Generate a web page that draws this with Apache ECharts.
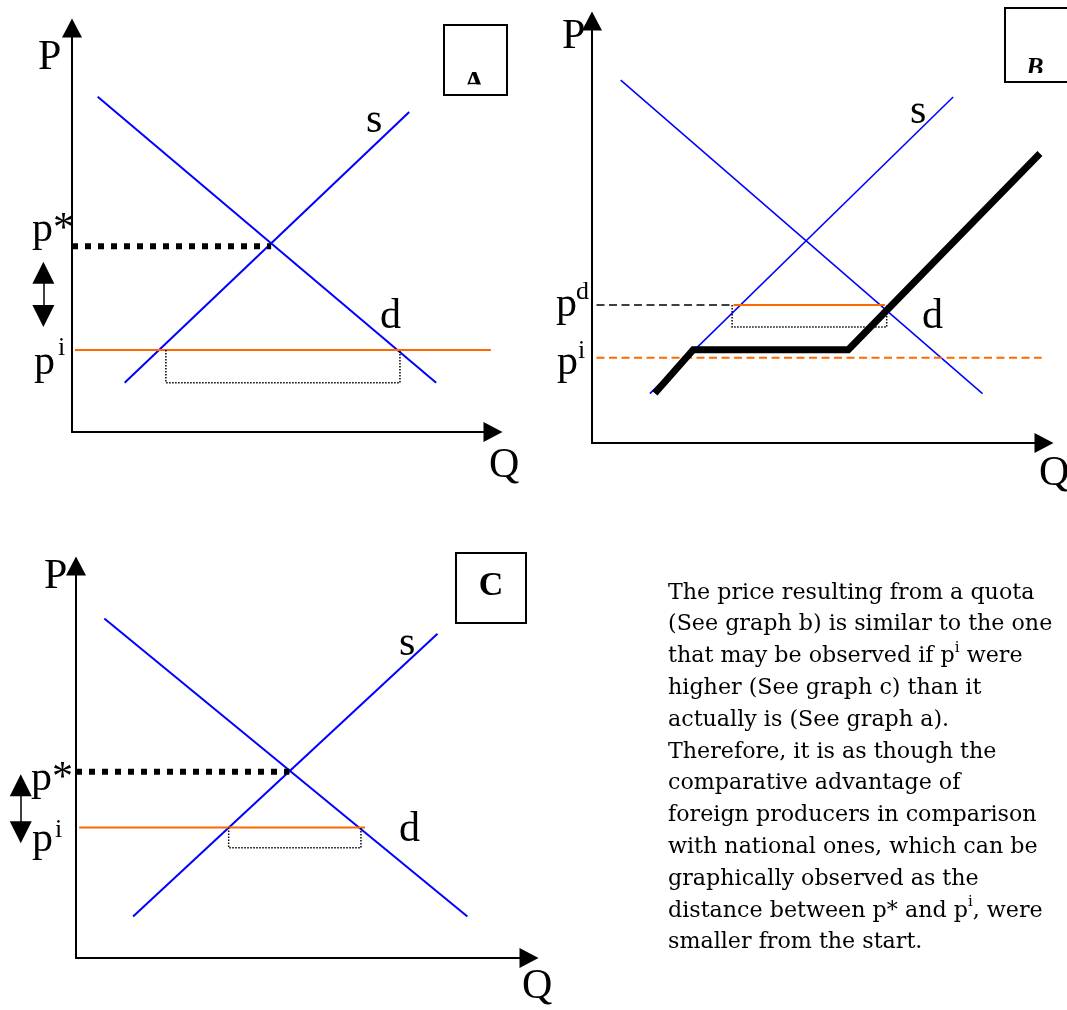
<!DOCTYPE html>
<html>
<head>
<meta charset="utf-8">
<script src="https://cdn.jsdelivr.net/npm/echarts@6/dist/echarts.min.js"></script>
<style>
  html, body { margin: 0; padding: 0; background: #fff; }
  #chart { width: 1067px; height: 1010px; }
</style>
</head>
<body>
<div id="chart"></div>
<script>
// values in chart units: Q and P both run 0..100 on each panel
// panel A (free trade)
const demandA = [[6.1, 83.0], [86.5, 12.2]];
const supplyA = [[12.5, 12.2], [80.1, 79.2]];
const pStarA = [[0, 46.0], [47.3, 46.0]];
const pWorldA = [[0.7, 20.3], [99.5, 20.3]];
const importsA = [[22.3, 20.3], [22.3, 12.2], [77.9, 12.2], [77.9, 20.3]];
const gapA = [[-6.8, 39.4], [-6.8, 28.7]];

// panel B (quota)
const demandB = [[6.35, 86.0], [86.4, 11.7]];
const supplyB = [[12.8, 11.7], [79.9, 82.0]];
const quotaSupplyB = [[13.9, 11.8], [22.4, 22.1], [56.7, 22.1], [99.1, 68.6]];
const pDomB = [[1.0, 32.7], [31.3, 32.7]];
const pDomImportB = [[31.3, 32.7], [64.8, 32.7]];
const pWorldB = [[1.0, 20.2], [99.5, 20.2]];
const importsB = [[31.0, 32.7], [31.0, 27.5], [65.2, 27.5], [65.2, 32.7]];

// panel C (higher world price)
const demandC = [[6.25, 86.6], [86.4, 10.6]];
const supplyC = [[12.6, 10.6], [79.8, 82.7]];
const pStarC = [[0, 47.5], [47.1, 47.5]];
const pWorldC = [[0.7, 33.3], [63.8, 33.3]];
const importsC = [[33.7, 33.3], [33.7, 28.1], [62.9, 28.1], [62.9, 33.3]];
const gapC = [[-12.2, 44.1], [-12.2, 32.1]];

const noteLines = [
  "The price resulting from a quota",
  "(See graph b) is similar to the one",
  "that may be observed if p{sup|i} were",
  "higher (See graph c) than it",
  "actually is (See graph a).",
  "Therefore, it is as though the",
  "comparative advantage of",
  "foreign producers in comparison",
  "with national ones, which can be",
  "graphically observed as the",
  "distance between p* and p{sup|i}, were",
  "smaller from the start."
];

const BLUE = "#0000ff";
const ORANGE = "#ff6a00";
const SERIF = "Liberation Serif";

const chart = echarts.init(document.getElementById("chart"));

function axis(gridIndex) {
  return {
    type: "value", gridIndex: gridIndex, min: 0, max: 100,
    axisLine: { show: true, symbol: ["none", "triangle"], symbolSize: [20, 19],
      lineStyle: { color: "#000", width: 2 } },
    axisTick: { show: false }, axisLabel: { show: false }, splitLine: { show: false }
  };
}

function seg(data, idx, color, width, type, z) {
  return {
    type: "line", xAxisIndex: idx, yAxisIndex: idx, data: data,
    symbol: "none", silent: true, z: z || 2,
    lineStyle: { color: color, width: width, type: type || "solid", cap: "butt", join: "miter" }
  };
}
function doubleArrow(data, idx) {
  return {
    type: "lines", coordinateSystem: "cartesian2d", xAxisIndex: idx, yAxisIndex: idx,
    clip: false, silent: true,
    symbol: ["triangle", "triangle"], symbolSize: 22,
    lineStyle: { color: "#000", width: 1.5, opacity: 1 },
    data: [{ coords: data }]
  };
}

function txt(text, x, y, size, extra) {
  return {
    type: "text", x: x, y: y, z: 10, silent: true,
    style: Object.assign({
      text: text, fontFamily: SERIF, fontSize: size, fill: "#000",
      align: "left", verticalAlign: "middle"
    }, extra || {})
  };
}
function clippedBox(x, y, w, h, letter, lx, ly, size, cutY, fontStyle) {
  return [
    txt(letter, lx, ly, size, { align: "center", fontWeight: "bold", fontStyle: fontStyle || "normal" }),
    { type: "rect", z: 11, silent: true,
      shape: { x: x + 1, y: cutY, width: w - 2, height: y + h - cutY - 1 },
      style: { fill: "#fff" } },
    { type: "rect", z: 12, silent: true,
      shape: { x: x, y: y, width: w, height: h },
      style: { fill: "none", stroke: "#000", lineWidth: 2 } }
  ];
}

const option = {
  backgroundColor: "#fff",
  animation: false,
  grid: [
    { left: 72, top: 28, width: 421, height: 404 },
    { left: 592, top: 21, width: 452, height: 422 },
    { left: 76, top: 566, width: 453, height: 392 }
  ],
  xAxis: [axis(0), axis(1), axis(2)],
  yAxis: [axis(0), axis(1), axis(2)],
  series: [
    // A
    seg(demandA, 0, BLUE, 2),
    seg(supplyA, 0, BLUE, 2),
    seg(pWorldA, 0, ORANGE, 2),
    seg(importsA, 0, "#000", 1.5, [1.5, 1.5]),
    seg(pStarA, 0, "#000", 6, [6, 7], 3),
    doubleArrow(gapA, 0),
    // B
    seg(demandB, 1, BLUE, 1.5),
    seg(supplyB, 1, BLUE, 1.5),
    seg(pDomB, 1, "#000", 1.5, [8, 4.5]),
    seg(pDomImportB, 1, ORANGE, 2),
    seg(pWorldB, 1, ORANGE, 2, [8, 4.5]),
    seg(importsB, 1, "#000", 1.5, [1.5, 1.5]),
    seg(quotaSupplyB, 1, "#000", 7, "solid", 4),
    // C
    seg(demandC, 2, BLUE, 2),
    seg(supplyC, 2, BLUE, 2),
    seg(pWorldC, 2, ORANGE, 2),
    seg(importsC, 2, "#000", 1.5, [1.5, 1.5]),
    seg(pStarC, 2, "#000", 6, [6, 7], 3),
    doubleArrow(gapC, 2)
  ],
  graphic: [].concat(
    // panel A labels
    txt("P", 38, 58, 42),
    txt("Q", 489, 466, 42),
    txt("p*", 32, 230, 42),
    txt("p", 34, 363, 42),
    txt("i", 58, 348, 26),
    txt("s", 366, 121, 42),
    txt("d", 380, 317, 42),
    clippedBox(444, 25, 63, 70, "A", 474, 83, 28, 84.5),
    // panel B labels
    txt("P", 562, 37, 42),
    txt("Q", 1039, 474, 42),
    txt("p", 556, 305, 42),
    txt("d", 576, 292, 26),
    txt("p", 557, 363, 42),
    txt("i", 578, 351, 26),
    txt("s", 910, 112, 42),
    txt("d", 922, 317, 42),
    clippedBox(1005, 8, 75, 74, "B", 1035, 68, 26, 73, "italic"),
    // panel C labels
    txt("P", 44, 577, 42),
    txt("Q", 522, 987, 42),
    txt("p*", 31, 779, 42),
    txt("p", 32, 840, 42),
    txt("i", 55, 830, 26),
    txt("s", 399, 644, 42),
    txt("d", 399, 830, 42),
    [
      { type: "rect", z: 12, silent: true,
        shape: { x: 456, y: 553, width: 70, height: 70 },
        style: { fill: "none", stroke: "#000", lineWidth: 2 } },
      txt("C", 491, 586, 34, { align: "center", fontWeight: "bold" })
    ],
    // note text
    [{
      type: "text", x: 668, y: 577, z: 10, silent: true,
      style: {
        text: noteLines.join("\n"),
        fontFamily: "DejaVu Serif", fontSize: 22.2, lineHeight: 31.8, fill: "#000",
        align: "left", verticalAlign: "top",
        rich: {
          sup: { fontFamily: "DejaVu Serif", fontSize: 15, lineHeight: 20, verticalAlign: "top", fill: "#000" }
        }
      }
    }]
  )
};

chart.setOption(option);
</script>
</body>
</html>
